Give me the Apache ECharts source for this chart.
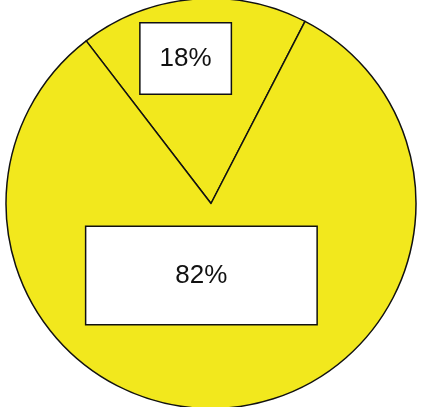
<!DOCTYPE html>
<html>
<head>
<meta charset="UTF-8">
<script src="https://cdn.jsdelivr.net/npm/echarts@6/dist/echarts.min.js"></script>
<style>
*{margin:0;padding:0}
html,body{width:100%;height:100%;background:#fff}
#main{width:422px;height:407px}
</style>
</head>
<body>
<div id="main"></div>
<script>
var names = ['small', 'large'];
var values = [18, 82];
var labelTexts = ['18%', '82%'];

var chart = echarts.init(document.getElementById('main'));
var boxStyle = [
    {width: 90, height: 70, offset: [-16, -40]},
    {width: 230, height: 97, offset: [-19, -33]}
];
var data = values.map(function (v, i) {
    return {
        name: names[i],
        value: v,
        label: {
            formatter: labelTexts[i],
            width: boxStyle[i].width,
            height: boxStyle[i].height,
            lineHeight: boxStyle[i].height,
            offset: boxStyle[i].offset
        }
    };
});
chart.setOption({
    animation: false,
    series: [{
        type: 'pie',
        center: ['50%', '50%'],
        radius: 205,
        startAngle: 127.5,
        silent: true,
        itemStyle: {color: '#f2e81d', borderColor: '#111', borderWidth: 1.5},
        label: {
            show: true,
            position: 'inside',
            color: '#111',
            fontSize: 26,
            fontFamily: 'Liberation Sans',
            align: 'center',
            verticalAlign: 'middle',
            backgroundColor: '#fff',
            borderColor: '#111',
            borderWidth: 1.5
        },
        labelLine: {show: false},
        data: data
    }]
});
</script>
</body>
</html>
